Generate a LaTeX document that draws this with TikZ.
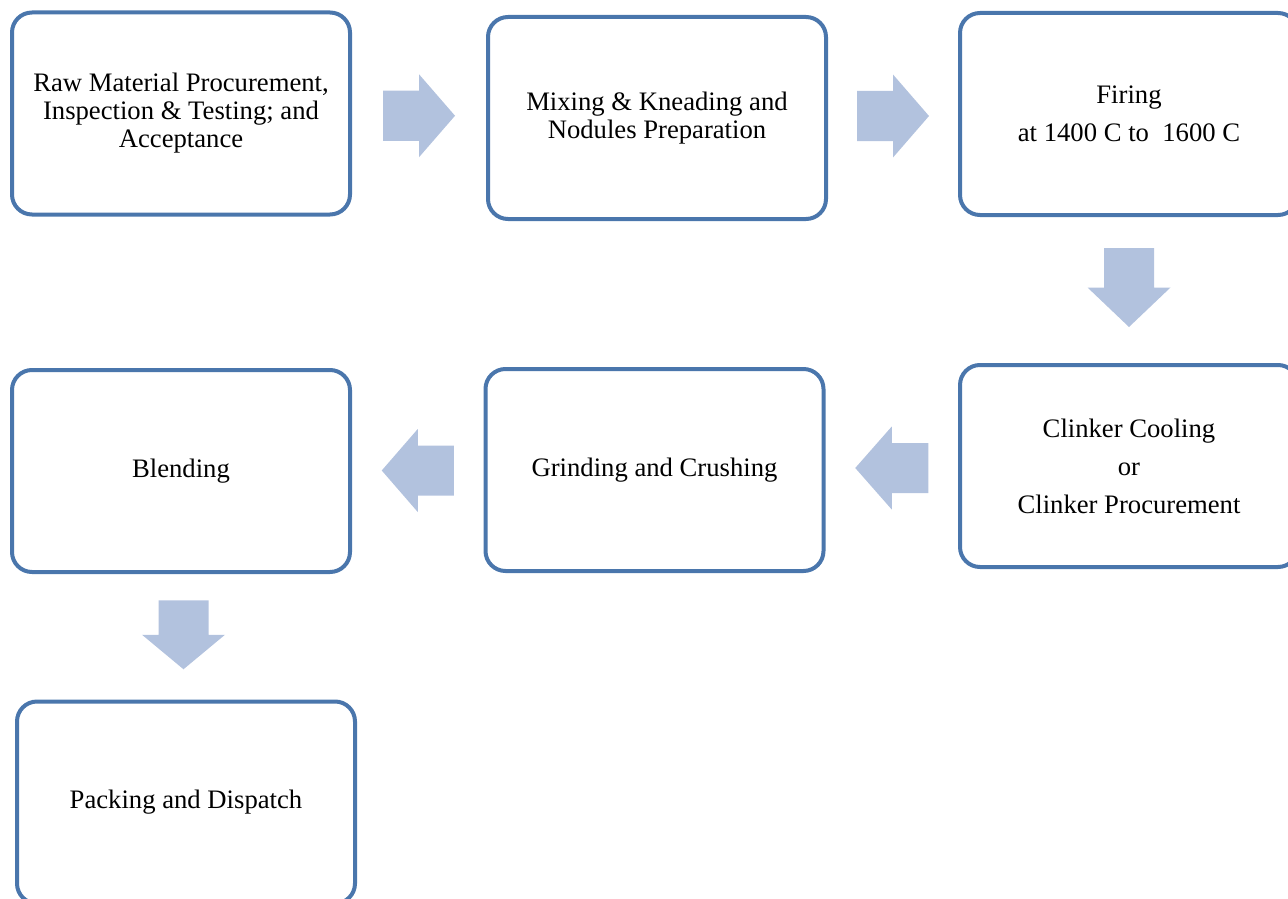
\documentclass[tikz,border=0pt]{standalone}
\usepackage{fontspec}
\setmainfont{Liberation Serif}
\usetikzlibrary{calc}
\definecolor{boxblue}{RGB}{74,118,172}
\definecolor{arrowfill}{RGB}{178,194,222}
\tikzset{
	stagebox/.style={draw=boxblue,line width=3pt,rounded corners=15pt,fill=white,
		minimum width=253.5pt,minimum height=151.5pt,align=center,
		font=\fontsize{20}{21}\selectfont},
	pics/blockarrow/.style={code={
		\fill[arrowfill] (-#1,-25) -- (0,-25) -- (0,-41.5) -- (#1,0) -- (0,41.5) -- (0,25) -- (-#1,25) -- cycle;
	}}
}
\begin{document}
\begin{tikzpicture}[x=0.75pt,y=-0.75pt]
	\useasboundingbox (0,0) rectangle (1288,899);
	\clip (0,0) rectangle (1288,899);
	% top row
	\node[stagebox] (raw) at (181,113.5) {Raw Material Procurement,\\Inspection \& Testing; and\\Acceptance};
	\node[stagebox] (mix) at (657,118) {Mixing \& Kneading and\\Nodules Preparation};
	\node[stagebox] (fire) at (1129,114) {Firing\\[7.5pt]at 1400 C to\ \ 1600 C};
	% middle row
	\node[stagebox] (clinker) at (1129,466) {Clinker Cooling\\[7.5pt]or\\[7.5pt]Clinker Procurement};
	\node[stagebox] (grind) at (654.5,470) {Grinding and Crushing};
	\node[stagebox] (blend) at (181,471) {Blending};
	% bottom
	\node[stagebox] (pack) at (186,802.5) {Packing and Dispatch};
	% flow arrows
	\pic at ($(raw.east)!0.5!(mix.west)$) {blockarrow=36};
	\pic at ($(mix.east)!0.5!(fire.west)$) {blockarrow=36};
	\pic[rotate=-90] at ($(fire.south)!0.5!(clinker.north)+(0,-2.5)$) {blockarrow=39.5};
	\pic[rotate=180] at ($(clinker.west)!0.5!(grind.east)$) {blockarrow=36.5};
	\pic[rotate=180] at ($(grind.west)!0.5!(blend.east)$) {blockarrow=36};
	\pic[rotate=-90] at ($(blend.south)!0.5!(pack.north)+(0,-2)$) {blockarrow=34.5};
\end{tikzpicture}
\end{document}
